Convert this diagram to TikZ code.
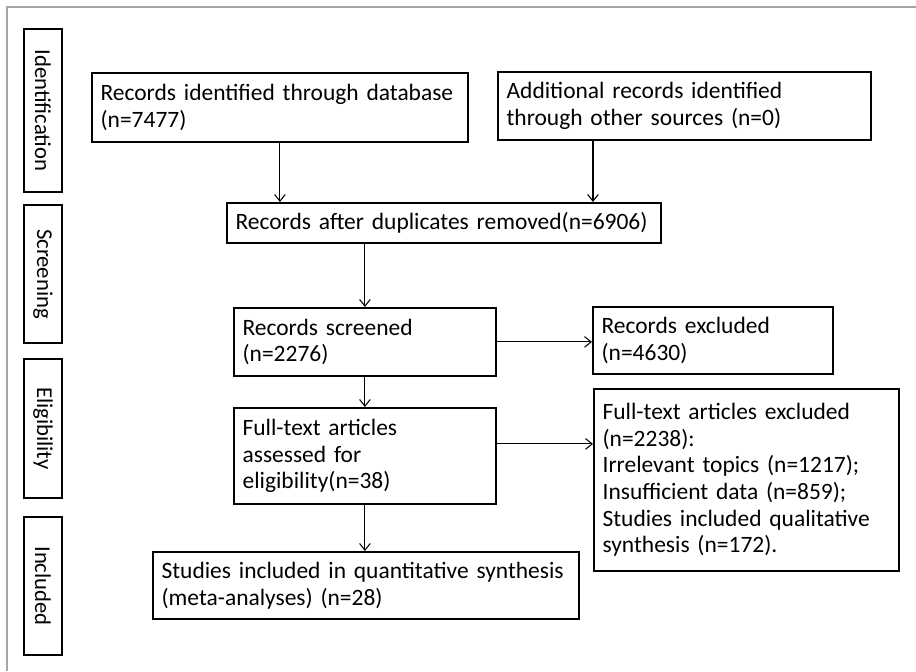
\documentclass[tikz,border=0pt]{standalone}
\usepackage{fontspec}
\setmainfont{Carlito}
\usetikzlibrary{positioning}
\usetikzlibrary{arrows.meta}

\begin{document}
\begin{tikzpicture}[x=0.75pt,y=-0.75pt,>={Straight Barb[length=5pt,width=8pt]},
    box/.style={draw,line width=1.4pt,anchor=north west,align=left,
                inner xsep=6.5pt,inner ysep=0pt,font=\fontsize{17.6}{20}\selectfont},
    stage/.style={draw,line width=1.4pt,rotate=-90,inner sep=0pt,
                  minimum height=28.5pt,font=\fontsize{17}{20}\selectfont},
    flow/.style={->,line width=0.8pt}]

  \useasboundingbox (0,0) rectangle (916,671);
  \draw[gray!70,line width=0.8pt] (7,671) -- (7,7) -- (916,7);

  % stages on the left
  \node[stage,minimum width=122.25pt] (ident) at (43,110.5) {Identification};
  \node[stage,minimum width=103.5pt]  (screen) at (43,274)  {Screening};
  \node[stage,minimum width=104.25pt] (elig) at (43,428.5)  {Eligibility};
  \node[stage,minimum width=103.5pt]  (incl) at (43,586)    {Included};

  % boxes
  \node[box,text width=269pt,minimum height=51.75pt] (db) at (91,72)
       {\mbox{Records identified through database}\\(n=7477)};
  \node[box,text width=266.75pt,minimum height=51pt] (other) at (497,71)
       {Additional records identified\\through other sources (n=0)};
  \node[box,text width=312.5pt,minimum height=30pt] (dup) at (226,202)
       {\mbox{Records after duplicates removed(n=6906)}};
  \node[box,text width=183.5pt,minimum height=51pt] (scr) at (233,307)
       {Records screened\\(n=2276)};
  \node[box,text width=167pt,minimum height=50.25pt] (excl) at (592,306)
       {Records excluded\\(n=4630)};
  \node[box,text width=183.5pt,minimum height=72pt] (full) at (233,407)
       {Full-text articles\\assessed for\\eligibility(n=38)};
  \node[box,text width=215.75pt,minimum height=136.5pt] (fullex) at (593,388)
       {Full-text articles excluded\\(n=2238):\\Irrelevant topics (n=1217);\\
        Insufficient data (n=859);\\Studies included qualitative\\synthesis (n=172).};
  \node[box,text width=306.5pt,minimum height=50.25pt] (quant) at (152,551)
       {\mbox{Studies included in quantitative synthesis}\\(meta-analyses) (n=28)};

  % arrows
  \draw[flow] (db.south) -- (db.south |- dup.north);
  \draw[flow] ([xshift=-68.6pt]other.south) -- ([xshift=-68.6pt]other.south |- dup.north);
  \draw[flow] (scr.north |- dup.south) -- (scr.north);
  \draw[flow] (scr.south) -- (full.north);
  \draw[flow] (scr.east) -- (scr.east -| excl.west);
  \draw[flow] ([yshift=9pt]full.east) -- ([yshift=9pt]full.east -| fullex.west);
  \draw[flow] (full.south) -- (full.south |- quant.north);
\end{tikzpicture}
\end{document}
